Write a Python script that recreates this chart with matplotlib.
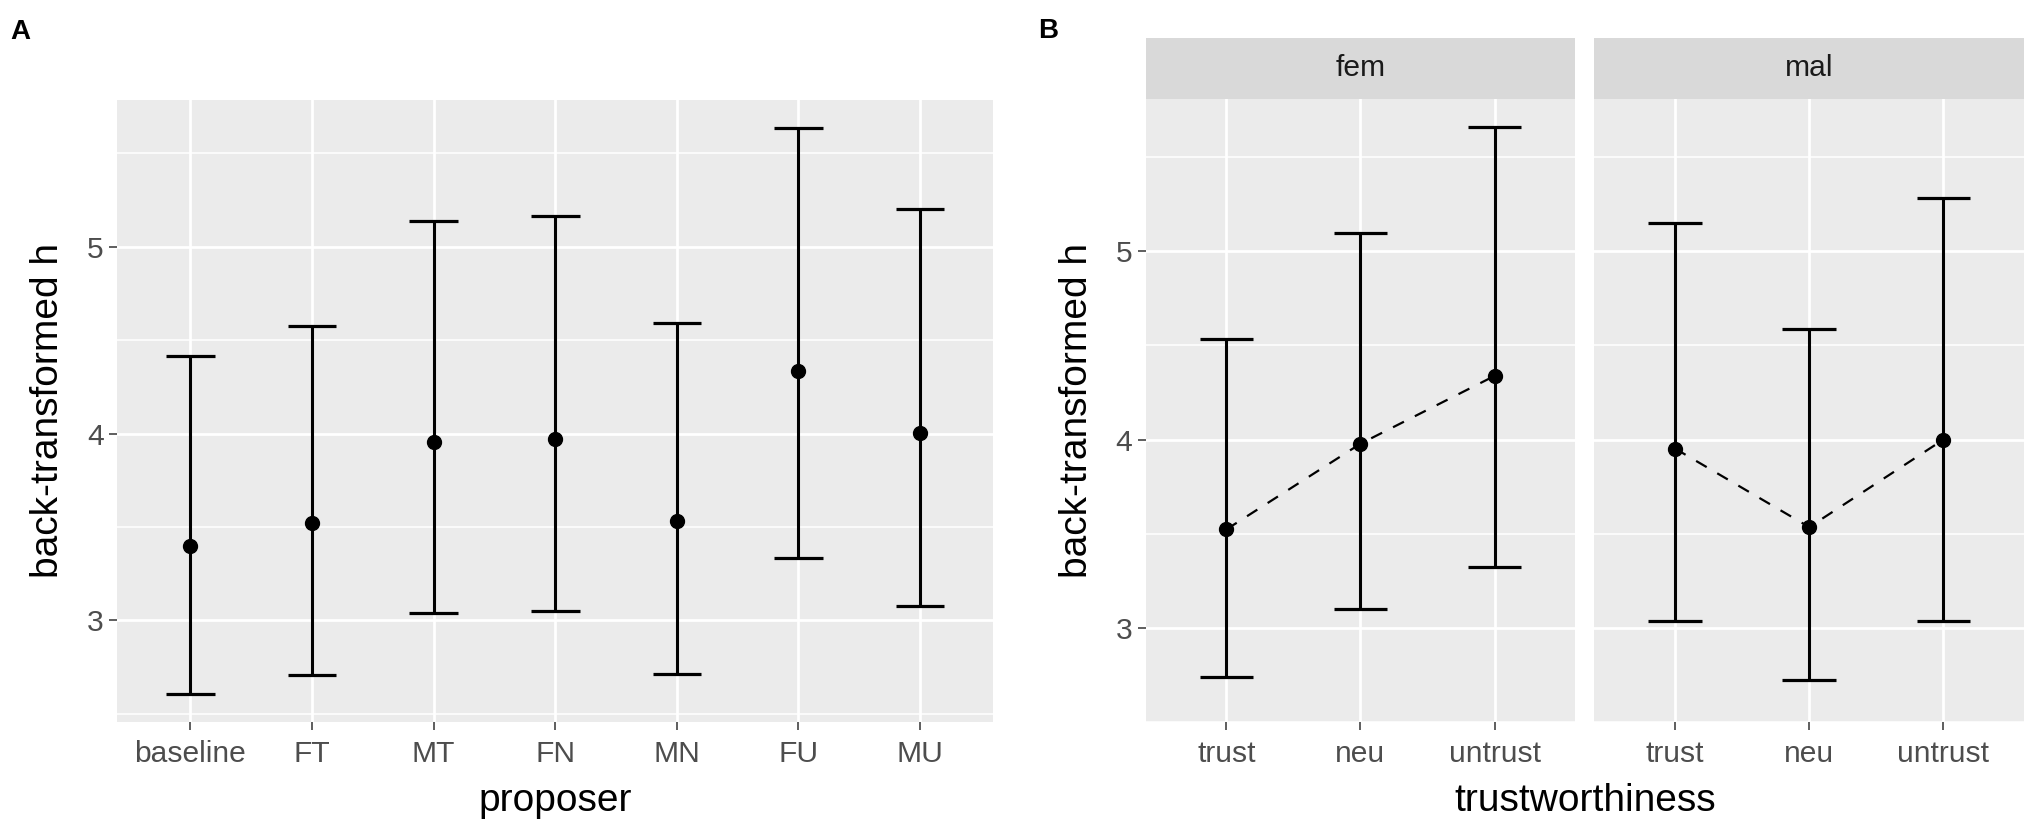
import numpy as np
import matplotlib.pyplot as plt

plt.rcParams['font.family'] = ['Liberation Sans', 'DejaVu Sans']

# panel A: estimates per proposer
proposer = ['baseline', 'FT', 'MT', 'FN', 'MN', 'FU', 'MU']
a_mean = [3.397, 3.521, 3.955, 3.970, 3.534, 4.333, 4.002]
a_low = [2.607, 2.706, 3.039, 3.052, 2.714, 3.332, 3.076]
a_high = [4.415, 4.577, 5.137, 5.164, 4.593, 5.637, 5.203]

# panel B: estimates per trustworthiness, faceted by sex
trust_levels = ['trust', 'neu', 'untrust']
facets = ['fem', 'mal']
b_mean = {'fem': [3.523, 3.978, 4.338], 'mal': [3.952, 3.535, 4.000]}
b_low = {'fem': [2.738, 3.099, 3.322], 'mal': [3.038, 2.721, 3.034]}
b_high = {'fem': [4.534, 5.095, 5.660], 'mal': [5.152, 4.585, 5.284]}

W, H = 2033, 825
fig = plt.figure(figsize=(W / 100, H / 100), dpi=100)

BG = '#EBEBEB'
TXT = '#4D4D4D'
TICK_FS = 21.6
TITLE_FS = 28


def px(x0, y0, x1, y1):
    # pixel box -> figure fraction [left, bottom, width, height]
    return [x0 / W, 1 - y1 / H, (x1 - x0) / W, (y1 - y0) / H]


def gg_limits(lo, hi):
    r = hi - lo
    return lo - 0.05 * r, hi + 0.05 * r


def style(ax, ncat, labels, ylim):
    ax.set_facecolor(BG)
    for s in ax.spines.values():
        s.set_visible(False)
    ax.set_xlim(-0.6, ncat - 1 + 0.6)
    ax.set_ylim(*ylim)
    ax.set_xticks(range(ncat))
    ax.set_xticklabels(labels)
    ax.set_yticks([3, 4, 5])
    ax.set_yticks([2.5, 3.5, 4.5, 5.5], minor=True)
    ax.grid(True, which='major', color='white', lw=2.0)
    ax.grid(True, which='minor', axis='y', color='white', lw=1.1)
    ax.set_axisbelow(True)
    ax.tick_params(which='major', length=6, width=1.1, color='#333333',
                   labelsize=TICK_FS, labelcolor=TXT, pad=4)
    ax.tick_params(axis='x', which='major', pad=7)
    ax.tick_params(which='minor', length=0)


def draw_bars(ax, mean, low, high):
    x = np.arange(len(mean))
    ax.vlines(x, low, high, color='black', lw=2.2, zorder=3)
    ax.hlines(low, x - 0.2, x + 0.2, color='black', lw=2.3, zorder=3)
    ax.hlines(high, x - 0.2, x + 0.2, color='black', lw=2.3, zorder=3)


# ---- panel A
axA = fig.add_axes(px(117.5, 99.5, 993, 722))
style(axA, len(proposer), proposer, gg_limits(min(a_low), max(a_high)))
draw_bars(axA, a_mean, a_low, a_high)
axA.plot(range(len(proposer)), a_mean, 'o', color='black', ms=10, zorder=4)
axA.set_ylabel('back-transformed h', fontsize=TITLE_FS, color='black')
axA.yaxis.set_label_coords(-0.059, 0.5)
fig.text(555 / W, 1 - 811 / H, 'proposer', fontsize=TITLE_FS,
         ha='center', va='baseline')
fig.text(10 / W, 1 - 39 / H, 'A', fontsize=20, fontweight='bold', va='baseline')

# ---- panel B
all_low = min(min(v) for v in b_low.values())
all_high = max(max(v) for v in b_high.values())
ylimB = gg_limits(all_low, all_high)
boxes = {'fem': (1146, 1575), 'mal': (1594.5, 2024)}
for i, f in enumerate(facets):
    x0, x1 = boxes[f]
    ax = fig.add_axes(px(x0, 99.3, x1, 722))
    style(ax, len(trust_levels), trust_levels, ylimB)
    draw_bars(ax, b_mean[f], b_low[f], b_high[f])
    xs = np.arange(len(trust_levels))
    ax.plot(xs, b_mean[f], color='black', lw=1.6, linestyle=(0, (5.5, 5.5)), zorder=4)
    ax.plot(xs, b_mean[f], 'o', color='black', ms=10, zorder=5)
    if i == 0:
        ax.set_ylabel('back-transformed h', fontsize=TITLE_FS, color='black')
        ax.yaxis.set_label_coords(-0.119, 0.5)
    else:
        ax.tick_params(axis='y', which='both', left=False, labelleft=False)
    # strip
    sax = fig.add_axes(px(x0, 37.7, x1, 99.3))
    sax.set_facecolor('#D9D9D9')
    sax.set_xticks([])
    sax.set_yticks([])
    for s in sax.spines.values():
        s.set_visible(False)
    sax.text(0.5, 0.5, f, transform=sax.transAxes, ha='center', va='center',
             fontsize=TICK_FS, color='#1A1A1A')

fig.text(1585 / W, 1 - 811 / H, 'trustworthiness', fontsize=TITLE_FS,
         ha='center', va='baseline')
fig.text(1038 / W, 1 - 38 / H, 'B', fontsize=20, fontweight='bold', va='baseline')

fig.savefig('out.png', dpi=100, facecolor='white')
